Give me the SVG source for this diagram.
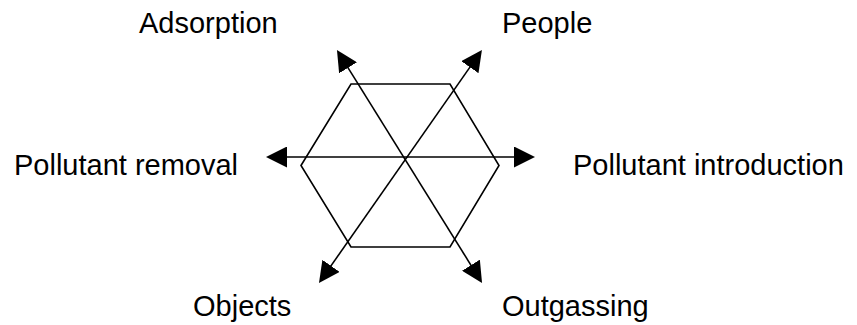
<svg xmlns="http://www.w3.org/2000/svg" width="857" height="325" viewBox="0 0 857 325">
<style>
  .lbl { font-family: "Liberation Sans", Arial, sans-serif; font-size: 29px; fill: #000; }
  .ln { stroke: #000; stroke-width: 1.6; fill: none; }
</style>
<defs>
  <marker id="arr" markerUnits="userSpaceOnUse" markerWidth="21" markerHeight="21" viewBox="0 0 20 20" refX="10" refY="10" orient="auto-start-reverse">
    <path d="M0,0 L20,10 L0,20 z" fill="#000"/>
  </marker>
</defs>
<rect width="857" height="325" fill="#fff"/>
<g id="hexagon">
  <polygon class="ln" points="301,165.5 351,84 450,84 499,165.5 450,247 351,247"/>
</g>
<g id="connectors">
  <line class="ln" x1="276.5" y1="157" x2="524.5" y2="157" marker-start="url(#arr)" marker-end="url(#arr)"/>
  <line class="ln" x1="342.5" y1="58.9" x2="476.5" y2="274.1" marker-start="url(#arr)" marker-end="url(#arr)"/>
  <line class="ln" x1="475.9" y1="58.6" x2="325" y2="274.4" marker-start="url(#arr)" marker-end="url(#arr)"/>
</g>
<g id="adsorption"><text class="lbl" x="139" y="33">Adsorption</text></g>
<g id="people"><text class="lbl" x="502" y="33">People</text></g>
<g id="pollutant-removal"><text class="lbl" x="14" y="175">Pollutant removal</text></g>
<g id="pollutant-introduction"><text class="lbl" x="573" y="175">Pollutant introduction</text></g>
<g id="objects"><text class="lbl" x="193" y="316">Objects</text></g>
<g id="outgassing"><text class="lbl" x="502" y="316">Outgassing</text></g>
</svg>
